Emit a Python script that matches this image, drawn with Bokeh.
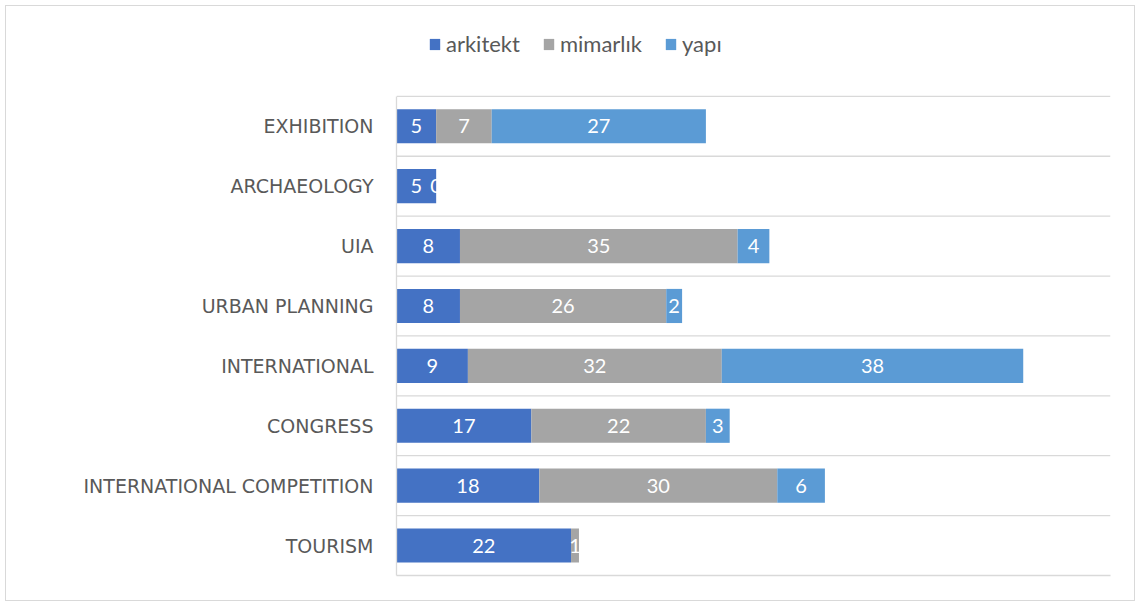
from bokeh.plotting import figure
from bokeh.models import ColumnDataSource, Range1d, FixedTicker, Legend, LegendItem
from bokeh.core.properties import value
from bokeh.embed import file_html
from bokeh.resources import INLINE

categories = ["TOURISM", "INTERNATIONAL COMPETITION", "CONGRESS", "INTERNATIONAL",
              "URBAN PLANNING", "UIA", "ARCHAEOLOGY", "EXHIBITION"]
arkitekt = [22, 18, 17, 9, 8, 8, 5, 5]
mimarlik = [1, 30, 22, 32, 26, 35, 0, 7]
yapi = [None, 6, 3, 38, 2, 4, None, 27]
series_names = ["arkitekt", "mimarlık", "yapı"]
colors = ["#4472C4", "#A5A5A5", "#5B9BD5"]

FONT = "Lato"
n = len(categories)
XMAX = 90
ypos = [i + 0.5 for i in range(n)]

p = figure(width=1130, height=596, output_backend="svg", toolbar_location=None,
           x_range=Range1d(0, XMAX), y_range=Range1d(0, n + 1.5),
           min_border_left=390, min_border_right=26, min_border_top=0, min_border_bottom=27)
p.outline_line_color = None
p.background_fill_color = "white"
p.border_fill_color = "white"
p.styles = {"border": "1px solid #D9D9D9", "margin": "5px 0 0 5px"}

# category separators (horizontal grid lines between bands)
sep = list(range(1, n + 1))
p.segment(x0=[0] * len(sep), x1=[XMAX] * len(sep), y0=sep, y1=sep,
          line_color="#D9D9D9", line_width=1.3)

series = [arkitekt, mimarlik, [v if v is not None else 0 for v in yapi]]
raw = [arkitekt, mimarlik, yapi]
left = [0] * n
renderers = []
for name, vals, rvals, col in zip(series_names, series, raw, colors):
    right = [l + v for l, v in zip(left, vals)]
    src = ColumnDataSource(dict(y=ypos, left=left, right=right))
    r = p.hbar(y="y", left="left", right="right", height=0.57, source=src,
               fill_color=col, line_color=None)
    renderers.append(r)
    lx, ly, lt = [], [], []
    for i in range(n):
        if rvals[i] is None:
            continue
        lx.append((left[i] + right[i]) / 2)
        ly.append(ypos[i])
        lt.append(str(rvals[i]))
    lsrc = ColumnDataSource(dict(x=lx, y=ly, t=lt))
    p.text(x="x", y="y", text="t", source=lsrc, text_color="white",
           text_font=value(FONT), text_font_size="20px",
           text_align="center", text_baseline="middle")
    left = right

# bottom axis: only its line, as the plot-area bottom border
p.xaxis.ticker = FixedTicker(ticks=[])
p.xaxis.major_tick_line_color = None
p.xaxis.minor_tick_line_color = None
p.xaxis.major_tick_out = 0
p.xaxis.major_label_standoff = 0
p.xaxis.axis_line_color = "#D9D9D9"
p.xaxis.axis_line_width = 1.3
p.xgrid.visible = False
p.ygrid.visible = False

p.yaxis.bounds = (0, n)
p.yaxis.ticker = FixedTicker(ticks=ypos)
p.yaxis.major_label_overrides = {y: c for y, c in zip(ypos, categories)}
p.yaxis.major_tick_line_color = None
p.yaxis.minor_tick_line_color = None
p.yaxis.major_tick_out = 0
p.yaxis.major_tick_in = 0
p.yaxis.axis_line_color = "#D9D9D9"
p.yaxis.axis_line_width = 1.3
p.yaxis.major_label_standoff = 23
p.yaxis.major_label_text_font = "DejaVu Sans"
p.yaxis.major_label_text_font_size = "19px"
p.yaxis.major_label_text_color = "#595959"

legend = Legend(items=[LegendItem(label=nm, renderers=[r]) for nm, r in zip(series_names, renderers)],
                orientation="horizontal", location=(32, 518))
legend.padding = 0
legend.margin = 0
legend.spacing = 22
legend.glyph_width = 13
legend.glyph_height = 14
legend.label_standoff = 5
legend.label_text_font = FONT
legend.label_text_font_size = "22px"
legend.label_text_color = "#595959"
legend.border_line_color = None
legend.background_fill_alpha = 0
p.add_layout(legend, "center")

open("out.html", "w").write(file_html(p, INLINE))
